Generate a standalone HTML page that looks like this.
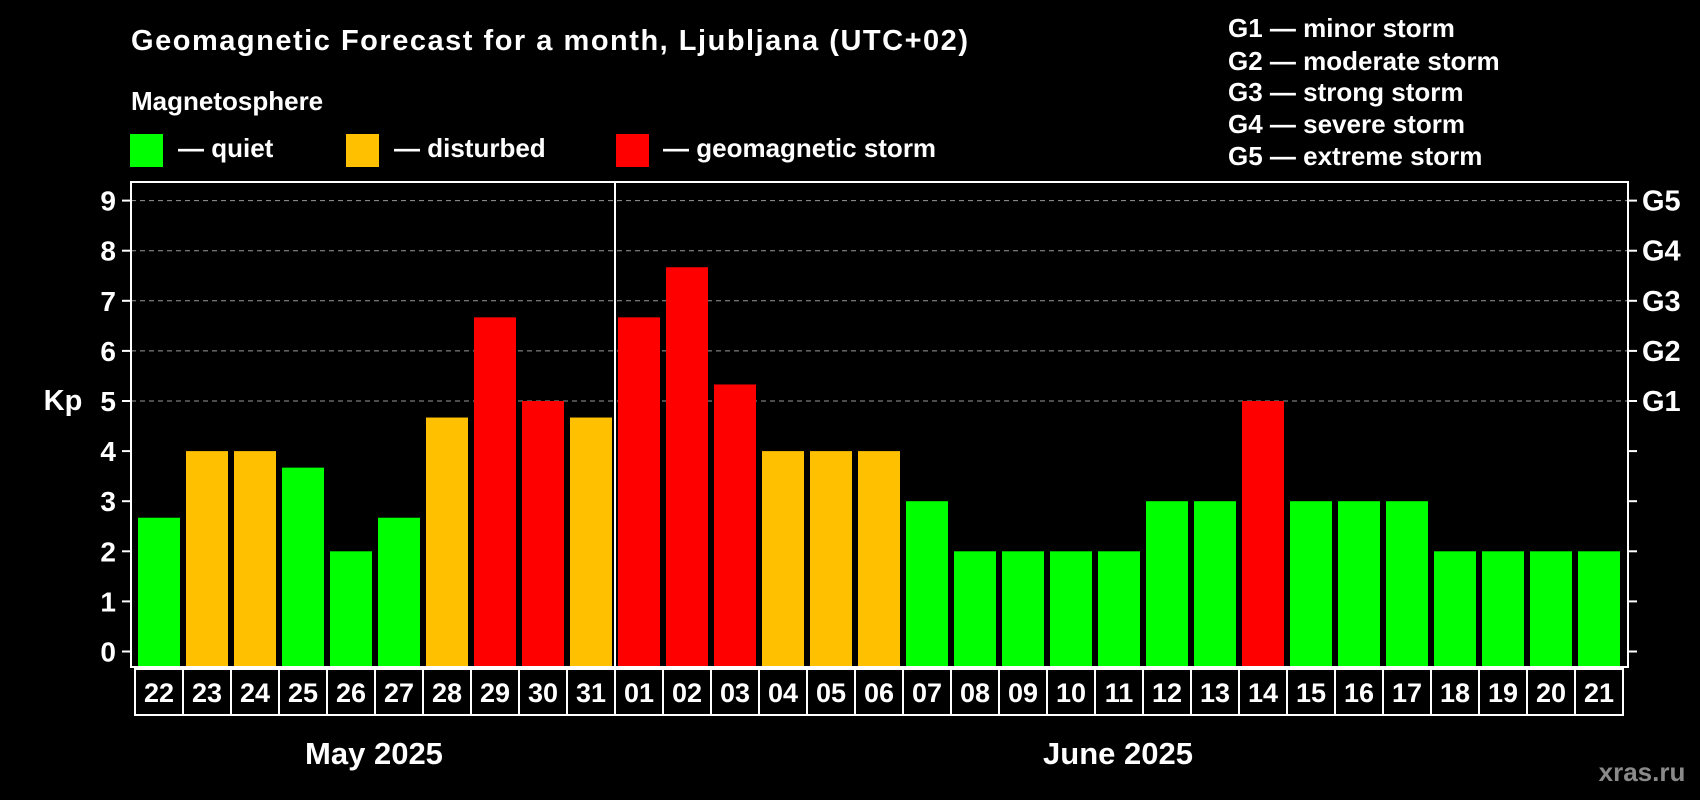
<!DOCTYPE html>
<html><head><meta charset="utf-8"><style>
html,body{margin:0;padding:0;background:#000;}
svg{display:block;font-family:"Liberation Sans",Arial,sans-serif;font-weight:bold;}
</style></head><body>
<svg id="chart" width="1700" height="800" viewBox="0 0 1700 800">
<rect width="1700" height="800" fill="#000"/>
<text x="131" y="50" fill="#fff" font-size="29" textLength="837">Geomagnetic Forecast for a month, Ljubljana (UTC+02)</text>
<text x="131" y="110" fill="#fff" font-size="26">Magnetosphere</text>
<g><rect x="130" y="134" width="33" height="33" fill="#00ff00"/><text x="178" y="157" fill="#fff" font-size="26">— quiet</text></g>
<g><rect x="346" y="134" width="33" height="33" fill="#ffc000"/><text x="394" y="157" fill="#fff" font-size="26">— disturbed</text></g>
<g><rect x="616" y="134" width="33" height="33" fill="#ff0000"/><text x="663" y="157" fill="#fff" font-size="26">— geomagnetic storm</text></g>
<g fill="#fff" font-size="26">
<text x="1228" y="37">G1 — minor storm</text>
<text x="1228" y="70">G2 — moderate storm</text>
<text x="1228" y="101">G3 — strong storm</text>
<text x="1228" y="133">G4 — severe storm</text>
<text x="1228" y="165">G5 — extreme storm</text>
</g>
<text x="63" y="410" fill="#fff" font-size="29" text-anchor="middle">Kp</text>
<g id="grid"></g><g id="bars"></g><g id="axes"></g>
<text x="374" y="764" fill="#fff" font-size="31" text-anchor="middle">May 2025</text>
<text x="1118" y="764" fill="#fff" font-size="31" text-anchor="middle">June 2025</text>
<text x="1642" y="781" fill="#8a8a8a" font-size="26" text-anchor="middle">xras.ru</text>
</svg>
<script>
const days=["22","23","24","25","26","27","28","29","30","31","01","02","03","04","05","06","07","08","09","10","11","12","13","14","15","16","17","18","19","20","21"];
const kpValues=[2.67,4,4,3.67,2,2.67,4.67,6.67,5,4.67,6.67,7.67,5.33,4,4,4,3,2,2,2,2,3,3,5,3,3,3,2,2,2,2];
const yTicks=[0,1,2,3,4,5,6,7,8,9];
const gLabels=["","","","","","G1","G2","G3","G4","G5"];
const NS="http://www.w3.org/2000/svg";
const L=131,R=1628,T=182,B=667,slot0=135,slotW=48;
const y=v=>651.5-v*50.1;
const x=i=>slot0+i*slotW;
function mk(tag,attrs,parent,txt){const e=document.createElementNS(NS,tag);for(const k in attrs)e.setAttribute(k,attrs[k]);if(txt!==undefined)e.textContent=txt;parent.appendChild(e);return e;}
const grid=document.getElementById('grid'),bars=document.getElementById('bars'),axes=document.getElementById('axes');
yTicks.forEach((t,i)=>{
  if(t>=5){const g=mk('line',{x1:L,x2:R,y1:y(t),y2:y(t),stroke:'#999','stroke-width':1,'stroke-dasharray':'5,4'},grid);
  
  }
  const lt=mk('line',{x1:L-9,x2:L,y1:y(t),y2:y(t),stroke:'#fff','stroke-width':2},axes);
  
  
  const rt=mk('line',{x1:R,x2:R+9,y1:y(t),y2:y(t),stroke:'#fff','stroke-width':2},axes);
  
  
  const tl=mk('text',{x:116,y:y(t)+10,fill:'#fff','font-size':28,'text-anchor':'end'},axes,String(t));
  
  
  if(gLabels[i]){const gl=mk('text',{x:1642,y:y(t)+10,fill:'#fff','font-size':29},axes,gLabels[i]);
  
  }
});
kpValues.forEach((v,i)=>{
  const c=v>=5?'#ff0000':(v>=4?'#ffc000':'#00ff00');
  const b=mk('rect',{x:x(i)+3,y:y(v),width:42,height:B-y(v),fill:c},bars);
  
  
  const box=mk('rect',{x:x(i),y:669,width:slotW,height:46,fill:'none',stroke:'#fff','stroke-width':2},axes);
  
  
  const dl=mk('text',{x:x(i)+slotW/2,y:702,fill:'#fff','font-size':27,'text-anchor':'middle'},axes,days[i]);
  
  
});
const fr=mk('rect',{x:L,y:T,width:R-L,height:B-T,fill:'none',stroke:'#fff','stroke-width':2},axes);


const dv=mk('line',{x1:x(10),x2:x(10),y1:T,y2:B,stroke:'#fff','stroke-width':2},axes);


</script>
</body></html>
